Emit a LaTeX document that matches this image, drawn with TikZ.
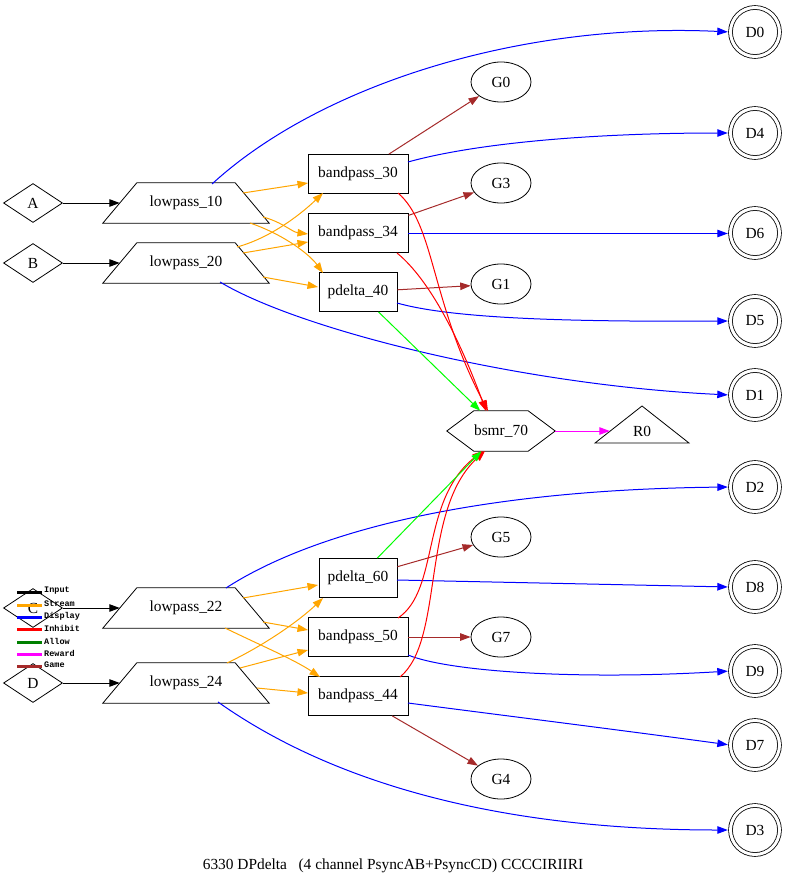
\documentclass[tikz,border=0pt]{standalone}
\usepackage{fontspec}
\setmainfont{Liberation Serif}
\newfontfamily\legfont{Liberation Mono}
\usetikzlibrary{shapes.geometric,arrows.meta,calc}
\definecolor{eorange}{RGB}{255,165,0}
\definecolor{ebrown}{RGB}{165,42,42}
\definecolor{egreen}{RGB}{0,255,0}
\definecolor{lgreen}{RGB}{0,128,0}
\definecolor{emagenta}{RGB}{255,0,255}
\definecolor{eblue}{RGB}{0,0,255}
\definecolor{ered}{RGB}{255,0,0}
\begin{document}
\begin{tikzpicture}[x=1pt,y=-1pt,font=\fontsize{15.4}{17}\selectfont,
  base/.style={draw,line width=0.8pt,inner sep=0pt},
  inbox/.style={base,diamond,minimum width=59pt,minimum height=39pt},
  lowbox/.style={inner sep=0pt,minimum width=166pt,minimum height=40pt},
  procbox/.style={base,rectangle,minimum height=39pt},
  gamebox/.style={base,ellipse,minimum width=60pt,minimum height=40pt},
  dispbox/.style={base,circle,double,double distance=3pt,minimum size=49pt},
  outline/.style={line width=0.8pt},
  conn/.style={line width=1pt,-{Triangle[length=10.5pt,width=7.5pt]}},
  instream/.style={conn,black},
  stream/.style={conn,eorange},
  disp/.style={conn,eblue,shorten >=2.3pt},
  inhib/.style={conn,ered},
  allow/.style={conn,egreen},
  reward/.style={conn,emagenta},
  game/.style={conn,ebrown},
  legtext/.style={anchor=west,inner sep=0pt,font=\legfont\bfseries\fontsize{8.5}{9}\selectfont}
]
\useasboundingbox (0,0) rectangle (788,888);

% inputs
\node[inbox] (A) at (33,203) {A};
\node[inbox] (B) at (33,263) {B};
\node[inbox] (C) at (33,608) {C};
\node[inbox] (D) at (33,683) {D};

% lowpass (trapezia)
\foreach \n/\y/\t in {lp10/203/lowpass\_10,lp20/263/lowpass\_20,lp22/608/lowpass\_22,lp24/683/lowpass\_24}{
  \node[lowbox] (\n) at (186,\y) {\t};
  \draw[outline] (\n.south west) -- ($(\n.north west)+(34,0)$) -- ($(\n.north east)+(-34,0)$) -- (\n.south east) -- cycle;
}

% processing boxes
\node[procbox,minimum width=100pt] (bp30) at (358,174) {bandpass\_30};
\node[procbox,minimum width=100pt] (bp34) at (358,233) {bandpass\_34};
\node[procbox,minimum width=78pt] (pd40) at (358,292) {pdelta\_40};
\node[procbox,minimum width=78pt] (pd60) at (358,578) {pdelta\_60};
\node[procbox,minimum width=100pt] (bp50) at (358,637) {bandpass\_50};
\node[procbox,minimum width=100pt] (bp44) at (358,696) {bandpass\_44};

% bsmr hexagon
\node[inner sep=0pt,minimum width=108pt,minimum height=40pt] (bsmr) at (501,431) {bsmr\_70};
\draw[outline] (bsmr.west) -- ($(bsmr.north west)+(27,0)$) -- ($(bsmr.north east)+(-27,0)$)
  -- (bsmr.east) -- ($(bsmr.south east)+(-27,0)$) -- ($(bsmr.south west)+(27,0)$) -- cycle;

% R0 triangle
\node[inner sep=0pt,minimum width=64pt,minimum height=24pt] (R0) at (642,431) {R0};
\draw[outline] ($(R0)+(0,-25)$) -- ($(R0)+(47,12)$) -- ($(R0)+(-47,12)$) -- cycle;

% games
\node[gamebox] (G0) at (501,82) {G0};
\node[gamebox] (G3) at (501,183) {G3};
\node[gamebox] (G1) at (501,284) {G1};
\node[gamebox] (G5) at (501,537) {G5};
\node[gamebox] (G7) at (501,637) {G7};
\node[gamebox] (G4) at (501,779) {G4};

% displays
\node[dispbox] (D0) at (755,32) {D0};
\node[dispbox] (D4) at (755,133) {D4};
\node[dispbox] (D6) at (755,233) {D6};
\node[dispbox] (D5) at (755,321) {D5};
\node[dispbox] (D1) at (755,395) {D1};
\node[dispbox] (D2) at (755,487) {D2};
\node[dispbox] (D8) at (755,587) {D8};
\node[dispbox] (D9) at (755,671) {D9};
\node[dispbox] (D7) at (755,745) {D7};
\node[dispbox] (D3) at (755,830) {D3};

% input edges
\draw[instream] (A) -- ($(lp10.west)+(17,0)$);
\draw[instream] (B) -- ($(lp20.west)+(17,0)$);
\draw[instream] (C) -- ($(lp22.west)+(17,0)$);
\draw[instream] (D) -- ($(lp24.west)+(17,0)$);

% stream edges (top)
\draw[stream] ($(lp10)+(57,-10)$) -- ($(bp30)+(-50,9)$);
\draw[stream] ($(lp10)+(77,14)$) .. controls (282,222) and (292,232) .. ($(bp34)+(-50,1)$);
\draw[stream] ($(lp10)+(64,20)$) .. controls (285,235) and (310,255) .. ($(pd40)+(-35,-19)$);
\draw[stream] ($(lp20)+(51,-16)$) .. controls (270,238) and (300,215) .. ($(bp30)+(-35,19)$);
\draw[stream] ($(lp20)+(57,-10)$) -- ($(bp34)+(-50,9)$);
\draw[stream] ($(lp20)+(77,14)$) -- ($(pd40)+(-40,-5)$);
% stream edges (bottom)
\draw[stream] ($(lp22)+(57,-10)$) -- ($(pd60)+(-40,7)$);
\draw[stream] ($(lp22)+(77,14)$) -- ($(bp50)+(-50,-7)$);
\draw[stream] ($(lp22)+(39,20)$) .. controls (260,645) and (295,660) .. ($(bp44)+(-38,-19)$);
\draw[stream] ($(lp24)+(41,-20)$) .. controls (265,645) and (300,620) .. ($(pd60)+(-35,20)$);
\draw[stream] ($(lp24)+(54,-15)$) -- ($(bp50)+(-50,13)$);
\draw[stream] ($(lp24)+(71,5)$) -- ($(bp44)+(-50,-3)$);

% display edges
\draw[disp] ($(lp10)+(26,-19)$) .. controls (320,85) and (520,22) .. (D0.west);
\draw[disp] ($(lp20)+(34,19)$) .. controls (300,330) and (520,385) .. (D1.west);
\draw[disp] ($(lp22)+(40,-20)$) .. controls (300,540) and (450,490) .. (D2.west);
\draw[disp] ($(lp24)+(32,19)$) .. controls (300,760) and (450,830) .. (D3.west);
\draw[disp] ($(bp30)+(50,-12)$) .. controls (480,142) and (600,133) .. (D4.west);
\draw[disp] ($(bp34.east)+(0,0.5)$) -- ($(D6.west)+(0,0.5)$);
\draw[disp] ($(pd40)+(39,11)$) .. controls (450,318) and (560,322) .. (D5.west);
\draw[disp] ($(pd60)+(39,2)$) -- (D8.west);
\draw[disp] ($(bp50)+(50,18)$) .. controls (450,672) and (580,680) .. (D9.west);
\draw[disp] ($(bp44)+(50,7)$) .. controls (500,715) and (620,730) .. (D7.west);

% game edges
\draw[game] (bp30) -- (G0);
\draw[game] (bp34) -- (G3);
\draw[game] (pd40) -- (G1);
\draw[game] (pd60) -- (G5);
\draw[game] (bp50) -- (G7);
\draw[game] (bp44) -- (G4);

% inhibit edges
\draw[inhib] ($(bp30)+(40,19)$) .. controls (435,225) and (430,300) .. ($(bsmr)+(-13,-20)$);
\draw[inhib] ($(bp34)+(39,20)$) .. controls (430,280) and (460,340) .. ($(bsmr)+(-15,-20)$);
\draw[inhib] ($(bp50)+(40,-19)$) .. controls (440,590) and (420,500) .. ($(bsmr)+(-18,20)$);
\draw[inhib] ($(bp44)+(42,-19)$) .. controls (445,640) and (420,510) .. ($(bsmr)+(-16,20)$);

% allow edges
\draw[allow] (pd40) -- (bsmr);
\draw[allow] (pd60) -- (bsmr);

% reward edge
\draw[reward] (bsmr) -- (R0);

% legend
\foreach \i/\y/\c/\t in {1/592/black/Input,2/605/eorange/Stream,3/617/eblue/Display,4/629/ered/Inhibit,5/642/lgreen/Allow,6/654/emagenta/Reward,7/666/ebrown/Game}{
  \draw[line width=3pt,\c] (17,\y) -- (42,\y);
  \node[legtext] (leg\i) at (44,\y-1) {\t};
}

% title
\node (title) at (393,866) {6330 DPdelta\ \ \ (4 channel PsyncAB+PsyncCD) CCCCIRIIRI};
\end{tikzpicture}
\end{document}
